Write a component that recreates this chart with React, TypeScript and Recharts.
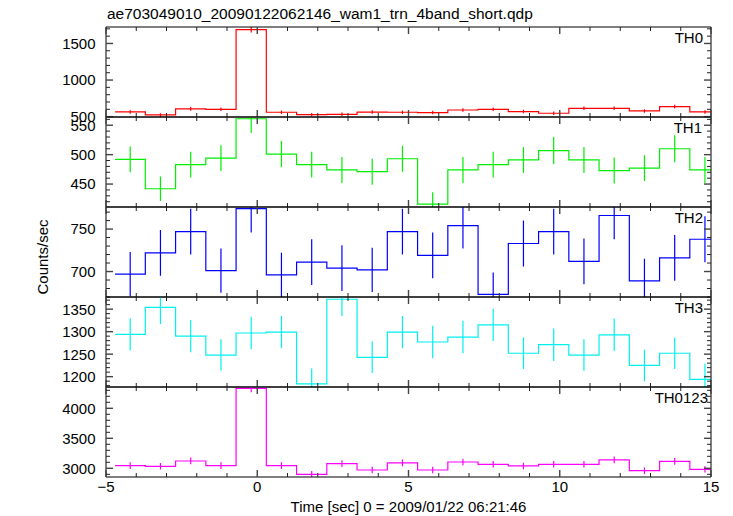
import { ComposedChart, Line, XAxis, YAxis } from "recharts";

// bin centres (1 s bins)
const binCenters = [-4.2, -3.2, -2.2, -1.2, -0.2, 0.8, 1.8, 2.8, 3.8, 4.8, 5.8, 6.8, 7.8, 8.8, 9.8, 10.8, 11.8, 12.8, 13.8, 14.8];

const th0 = [564, 523, 605, 600, 1690, 560, 528, 532, 562, 560, 555, 591, 600, 569, 546, 614, 614, 578, 636, 564];
const th0Err = [24, 23, 25, 24, 41, 24, 23, 23, 24, 24, 24, 24, 24, 24, 23, 25, 25, 24, 25, 24];

const th1 = [492, 442, 483, 494, 561, 501, 483, 474, 471, 493, 416, 474, 483, 491, 507, 491, 473, 477, 510, 474];
const th1Err = [22, 21, 22, 22, 24, 22, 22, 22, 22, 22, 20, 22, 22, 22, 23, 22, 22, 22, 23, 22];

const th2 = [697, 722, 747, 701, 774, 696, 711, 704, 702, 747, 719, 754, 673, 733, 747, 712, 766, 689, 716, 738];
const th2Err = [26, 27, 27, 26, 28, 26, 27, 27, 26, 27, 27, 27, 26, 27, 27, 27, 28, 26, 27, 27];

const th3 = [1294, 1354, 1290, 1248, 1297, 1299, 1184, 1372, 1243, 1299, 1277, 1288, 1315, 1252, 1271, 1248, 1293, 1225, 1252, 1194];
const th3Err = [36, 37, 36, 35, 36, 36, 34, 37, 35, 36, 36, 36, 36, 35, 36, 35, 36, 35, 35, 35];

const th0123 = [3044, 3033, 3122, 3044, 4333, 3044, 2900, 3078, 2972, 3089, 2972, 3105, 3067, 3039, 3067, 3067, 3139, 2961, 3117, 2983];
const th0123Err = [55, 55, 56, 55, 66, 55, 54, 55, 55, 56, 55, 56, 55, 55, 55, 55, 56, 54, 56, 55];

const xMajor = [-5, 0, 5, 10, 15];
const xDomain: [number, number] = [-5, 15];

const range = (a: number, b: number, s: number) => {
  const out: number[] = [];
  for (let v = a; v <= b + 1e-9; v += s) out.push(Math.round(v * 1000) / 1000);
  return out;
};
const xMinor = range(-5, 15, 1);

const FONT = "'Liberation Sans', Arial, Helvetica, sans-serif";
const PLOT_LEFT = 106;
const PLOT_RIGHT = 22;
const PANEL_H = 90;
const PAD = 20;

const fmt = (v: number) => (v < 0 ? "\u2212" + Math.abs(v) : String(v));

function makeTick(side: string, majors: number[], withLabel: boolean) {
  return (props: any) => {
    const { x, y, payload } = props;
    const v = payload.value;
    const major = majors.some((m) => Math.abs(m - v) < 1e-6);
    const len = major ? 7 : 4;
    const st = major ? { stroke: "#444", strokeWidth: 1.4 } : { stroke: "#222", strokeWidth: 1 };
    let line;
    let label = null;
    if (side === "bottom") {
      line = <line x1={x} y1={y} x2={x} y2={y - len} {...st} />;
      if (withLabel && major)
        label = (
          <text x={x} y={y + 15} textAnchor="middle" fontSize={15} fontFamily={FONT} fill="#000">
            {fmt(v)}
          </text>
        );
    } else if (side === "top") {
      line = <line x1={x} y1={y} x2={x} y2={y + len} {...st} />;
    } else if (side === "left") {
      line = <line x1={x} y1={y} x2={x + len} y2={y} {...st} />;
      if (withLabel && major)
        label = (
          <text x={x - 10.5} y={y + 5.4} textAnchor="end" fontSize={15} fontFamily={FONT} fill="#000">
            {fmt(v)}
          </text>
        );
    } else {
      line = <line x1={x} y1={y} x2={x - len} y2={y} {...st} />;
    }
    return (
      <g>
        {line}
        {label}
      </g>
    );
  };
}

type PanelProps = {
  top: number;
  values: number[];
  errors: number[];
  color: string;
  domain: [number, number];
  yMajor: number[];
  yMinor: number[];
  xLabels?: boolean;
};

const axisCommon = {
  type: "number" as const,
  allowDataOverflow: true,
  interval: 0 as const,
  mirror: true,
  tickSize: 0,
  tickMargin: 0,
  tickLine: false,
  axisLine: { stroke: "#000", strokeWidth: 1 },
};

function Panel({ top, values, errors, color, domain, yMajor, yMinor, xLabels }: PanelProps) {
  // histogram steps: one point per bin edge
  const steps = binCenters.map((c, i) => ({ x: c - 0.5, y: values[i] }));
  steps.push({ x: binCenters[binCenters.length - 1] + 0.5, y: values[values.length - 1] });
  // vertical error bars as broken line segments
  const bars: { x: number; e: number | null }[] = [];
  binCenters.forEach((c, i) => {
    bars.push({ x: c, e: values[i] - errors[i] });
    bars.push({ x: c, e: values[i] + errors[i] });
    bars.push({ x: c, e: null });
  });
  const yTicks = Array.from(new Set([...yMinor, ...yMajor])).sort((a, b) => a - b);
  const xTicks = Array.from(new Set([...xMinor, ...xMajor])).sort((a, b) => a - b);
  return (
    <div style={{ position: "absolute", left: 0, top: top - PAD }}>
      <ComposedChart
        width={733}
        height={PANEL_H + 2 * PAD}
        data={steps}
        margin={{ top: PAD, bottom: PAD, left: PLOT_LEFT, right: PLOT_RIGHT }}
        style={{ overflow: "visible" }}
      >
        <XAxis {...axisCommon} xAxisId="b" dataKey="x" orientation="bottom" domain={xDomain} ticks={xTicks} height={1} tick={makeTick("bottom", xMajor, !!xLabels)} />
        <XAxis {...axisCommon} xAxisId="t" dataKey="x" orientation="top" domain={xDomain} ticks={xTicks} height={1} tick={makeTick("top", xMajor, false)} />
        <YAxis {...axisCommon} yAxisId="l" orientation="left" domain={domain} ticks={yTicks} width={1} tick={makeTick("left", yMajor, true)} />
        <YAxis {...axisCommon} yAxisId="r" orientation="right" domain={domain} ticks={yTicks} width={1} tick={makeTick("right", yMajor, false)} />
        <Line
          xAxisId="b"
          yAxisId="l"
          type="stepAfter"
          dataKey="y"
          stroke={color}
          strokeWidth={1.2}
          dot={false}
          activeDot={false}
          isAnimationActive={false}
        />
        <Line
          xAxisId="b"
          yAxisId="l"
          data={bars}
          type="linear"
          dataKey="e"
          stroke={color}
          strokeWidth={1.2}
          dot={false}
          activeDot={false}
          connectNulls={false}
          isAnimationActive={false}
        />
      </ComposedChart>
    </div>
  );
}

const panelLabels = ["TH0", "TH1", "TH2", "TH3", "TH0123"];
const labelRight = [703, 702, 703, 703, 708];

export default function App() {
  const tops = [27, 117, 207, 297, 387];
  return (
    <div style={{ position: "absolute", left: 0, top: 0, width: 733, height: 516, background: "#fff", overflow: "hidden" }}>
      <Panel top={tops[0]} values={th0} errors={th0Err} color="#ff0000" domain={[495, 1725]} yMajor={[500, 1000, 1500]} yMinor={range(500, 1700, 100)} />
      <Panel top={tops[1]} values={th1} errors={th1Err} color="#00ee00" domain={[411, 564]} yMajor={[450, 500, 550]} yMinor={range(420, 560, 10)} />
      <Panel top={tops[2]} values={th2} errors={th2Err} color="#0000ff" domain={[670, 776]} yMajor={[700, 750]} yMinor={range(670, 770, 10)} />
      <Panel top={tops[3]} values={th3} errors={th3Err} color="#00f0f0" domain={[1177, 1377]} yMajor={[1200, 1250, 1300, 1350]} yMinor={range(1180, 1370, 10)} />
      <Panel top={tops[4]} values={th0123} errors={th0123Err} color="#ff00ff" domain={[2855, 4355]} yMajor={[3000, 3500, 4000]} yMinor={range(2900, 4300, 100)} xLabels />
      <svg width={733} height={516} style={{ position: "absolute", left: 0, top: 0, pointerEvents: "none" }}>
        <text x={107} y={19} fontSize={15.5} fontFamily={FONT} fill="#000">
          ae703049010_20090122062146_wam1_trn_4band_short.qdp
        </text>
        {panelLabels.map((l, i) => (
          <text key={l} x={labelRight[i]} y={tops[i] + 15.8} textAnchor="end" fontSize={15} fontFamily={FONT} fill="#000">
            {l}
          </text>
        ))}
        <text x={48} y={257} transform="rotate(-90 48 257)" textAnchor="middle" fontSize={15} fontFamily={FONT} fill="#000">
          Counts/sec
        </text>
        <text x={408.5} y={511.5} textAnchor="middle" fontSize={15} fontFamily={FONT} fill="#000">
          Time [sec] 0 = 2009/01/22 06:21:46
        </text>
      </svg>
    </div>
  );
}
